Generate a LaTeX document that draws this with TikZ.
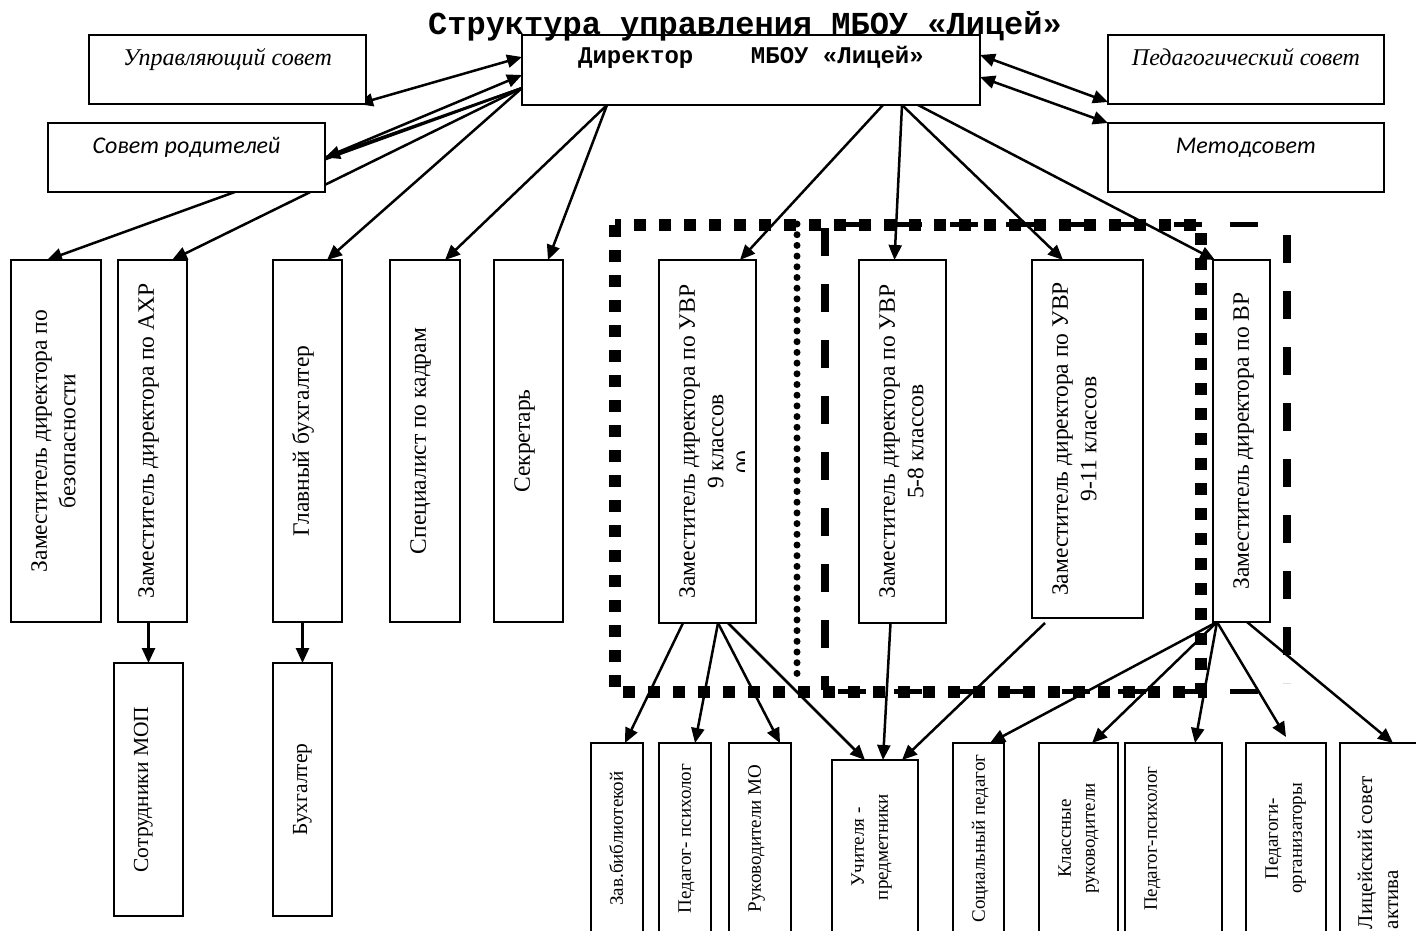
\documentclass[tikz,border=0pt]{standalone}
\usepackage{fontspec}
\setmainfont{Liberation Serif}
\newfontfamily\courfont{Liberation Mono}
\newfontfamily\calfont{Carlito}
\usetikzlibrary{arrows.meta,backgrounds}

% vertical text inside a box: [pad]{box width}{box height}{text}
\newcommand{\vtxt}[4][16pt]{\rotatebox{90}{\parbox[c][#2][t]{#3}{\centering\vspace*{#1}\strut #4}}}
\newcommand{\rowsize}{\fontsize{23.5}{28.5}\selectfont}
\newcommand{\subsize}{\fontsize{21.5}{26}\selectfont}
\newcommand{\botsize}{\fontsize{19}{24}\selectfont}

\tikzset{
  box/.style={draw, line width=2pt, fill=white, inner sep=0pt, outer sep=0pt, anchor=north west},
  sidebox/.style={box, align=center, text height=30pt, text depth=39pt},
  arr/.style={line width=2.5pt, ->},
  darr/.style={line width=2.5pt, <->},
  sqframe/.style={line width=12pt, dash pattern=on 12pt off 13pt},
  dashframe/.style={line width=8pt, dash pattern=on 28pt off 28pt},
  dotline/.style={line width=7pt, line cap=round, dash pattern=on 0pt off 10.7pt},
}

\begin{document}
\begin{tikzpicture}[x=1pt, y=-1pt, >={Triangle[length=15pt,width=13pt]}]
  \useasboundingbox (0,0) rectangle (1416,930);
  \clip (0,0) rectangle (1416,930);

  % group frames
  \draw[sqframe] (615,225) rectangle (1201,692);
  \draw[dashframe, line width=5pt] (838,224) -- (1278,224) (838,691) -- (1278,691);
  \draw[dashframe] (825,228) -- (825,690) (1287,235) -- (1287,683);
  \draw[dotline] (797,224) -- (797,682);

  % top row
  \node[box, minimum width=458pt, text height=28pt, text depth=42pt,
        font=\courfont\bfseries\fontsize{24}{28}\selectfont] (dir) at (522,35) {Директор\ \ \ \ МБОУ «Лицей»};
  \node[font=\courfont\bfseries\fontsize{32}{36}\selectfont, anchor=base, inner sep=0pt] (title) at (745,34) {Структура управления МБОУ «Лицей»};
  \node[sidebox, minimum width=277pt, font=\itshape\fontsize{24}{28}\selectfont] (upr) at (89,35) {Управляющий совет};
  \node[sidebox, minimum width=277pt, font=\calfont\itshape\fontsize{24}{28}\selectfont] (rod) at (48,123) {Совет родителей};
  \node[sidebox, minimum width=276pt, font=\itshape\fontsize{24}{28}\selectfont] (ped) at (1108,35) {Педагогический совет};
  \node[sidebox, minimum width=276pt, font=\calfont\itshape\fontsize{24}{28}\selectfont] (met) at (1108,123) {Методсовет};

  % deputies and staff
  \node[box, font=\rowsize] (bez) at (11,260) {\vtxt{90pt}{362pt}{Заместитель директора по\\безопасности}};
  \node[box, font=\rowsize] (ahr) at (118,260) {\vtxt{69pt}{362pt}{Заместитель директора по АХР}};
  \node[box, font=\rowsize] (glb) at (273,260) {\vtxt{69pt}{362pt}{Главный бухгалтер}};
  \node[box, font=\rowsize] (kadr) at (390,260) {\vtxt{70pt}{362pt}{Специалист по кадрам}};
  \node[box, font=\rowsize] (sekr) at (494,260) {\vtxt{69pt}{362pt}{Секретарь}};
  \node[box, font=\rowsize] (uvr9) at (659,260) {\vtxt{97pt}{363pt}{Заместитель директора по УВР\\9 классов}};
  \node[box, font=\rowsize] (uvr58) at (859,260) {\vtxt{87pt}{363pt}{Заместитель директора по УВР\\5-8 классов}};
  \node[box, font=\rowsize] (uvr911) at (1032,260) {\vtxt{111pt}{358pt}{Заместитель директора по УВР\\9-11 классов}};
  \node[box, font=\rowsize] (vr) at (1213,260) {\vtxt{57pt}{362pt}{Заместитель директора по ВР}};
  \begin{scope}
    \clip (uvr9.north west) rectangle ([xshift=-12pt]uvr9.south east);
    \node[rotate=90, anchor=base, inner sep=0pt, font=\rowsize] (uvr9x) at (752,462) {00};
  \end{scope}

  \node[box, font=\subsize] (mop) at (114,663) {\vtxt{69pt}{253pt}{Сотрудники МОП}};
  \node[box, font=\subsize] (buh) at (273,663) {\vtxt{59pt}{253pt}{Бухгалтер}};

  % bottom row
  \node[box, font=\botsize] (zav) at (591,743) {\vtxt[15pt]{52pt}{191pt}{Зав.библиотекой}};
  \node[box, font=\botsize] (psy1) at (659,743) {\vtxt[15pt]{52pt}{191pt}{Педагог- психолог}};
  \node[box, font=\botsize] (rmo) at (729,743) {\vtxt[15pt]{62pt}{191pt}{Руководители МО}};
  \node[box, font=\botsize] (uch) at (832,760) {\vtxt[15pt]{86pt}{174pt}{Учителя -\\предметники}};
  \node[box, font=\botsize] (soc) at (953,743) {\vtxt[15pt]{51pt}{191pt}{Социальный педагог}};
  \node[box, font=\botsize] (klass) at (1039,743) {\vtxt[15pt]{79pt}{191pt}{Классные\\руководители}};
  \node[box, font=\botsize] (psy2) at (1125,743) {\vtxt[15pt]{97pt}{191pt}{Педагог-психолог}};
  \node[box, font=\botsize] (org) at (1246,743) {\vtxt[15pt]{80pt}{191pt}{Педагоги-\\организаторы}};
  \node[box, font=\fontsize{21}{26}\selectfont] (lic) at (1340,743)
    {\rotatebox{90}{\parbox[c][90pt][t]{191pt}{\raggedright\leftskip=5pt\vspace*{14pt}\strut Лицейский совет\\актива}}};

  % connectors
  \begin{scope}[on background layer]
    \draw[darr] ([xshift=-8pt]upr.south east) -- ([yshift=13pt]dir.west);
    \draw[arr] ([yshift=-18pt]dir.west) -- (rod.east);
    \draw[arr] (rod.east) -- ([yshift=-5pt]dir.west);
    \draw[darr] ([yshift=15pt]dir.east) -- ([yshift=2pt]ped.south west);
    \draw[darr] ([yshift=-7pt]dir.east) -- (met.north west);

    \draw[arr] ([yshift=-18pt]dir.west) -- ([xshift=36pt]bez.north west);
    \draw[arr] ([yshift=-18pt]dir.west) -- ([xshift=-15pt]ahr.north east);
    \draw[arr] ([yshift=-18pt]dir.west) -- ([xshift=-15pt]glb.north east);
    \draw[arr] ([xshift=85pt]dir.south west) -- ([xshift=-15pt]kadr.north east);
    \draw[arr] ([xshift=85pt]dir.south west) -- ([xshift=-15pt]sekr.north east);
    \draw[arr] ([xshift=361pt]dir.south west) -- ([xshift=-16pt]uvr9.north east);
    \draw[arr] ([xshift=380pt]dir.south west) -- ([xshift=-8pt]uvr58.north);
    \draw[arr] ([xshift=380pt]dir.south west) -- ([xshift=31pt]uvr911.north west);
    \draw[arr] ([xshift=396pt]dir.south west) -- ([xshift=2pt]vr.north west);

    \draw[arr] (ahr.south -| mop.north) -- (mop.north);
    \draw[arr] (glb.south -| buh.north) -- (buh.north);

    \draw[arr] ([xshift=24pt]uvr9.south west) -- ([xshift=-18pt]zav.north east);
    \draw[arr] ([xshift=59pt]uvr9.south west) -- ([xshift=-16pt]psy1.north east);
    \draw[arr] ([xshift=59pt]uvr9.south west) -- ([xshift=-11pt]rmo.north east);
    \draw[arr] ([xshift=69pt]uvr9.south west) -- ([xshift=33pt]uch.north west);
    \draw[arr] ([xshift=-12pt]uvr58.south) -- ([xshift=51pt]uch.north west);
    \draw[arr] ([xshift=13pt,yshift=-5pt]uvr911.south west) -- ([xshift=70pt]uch.north west);

    \draw[arr] ([xshift=4pt]vr.south west) -- ([xshift=-14pt]soc.north east);
    \draw[arr] ([xshift=4pt]vr.south west) -- ([xshift=-26pt]klass.north east);
    \draw[arr] ([xshift=4pt]vr.south west) -- ([xshift=-27pt]psy2.north east);
    \draw[arr] ([xshift=4pt]vr.south west) -- ([yshift=6pt]org.north);
    \draw[arr] ([xshift=34pt]vr.south west) -- ([xshift=53pt]lic.north west);
  \end{scope}
\end{tikzpicture}
\end{document}
